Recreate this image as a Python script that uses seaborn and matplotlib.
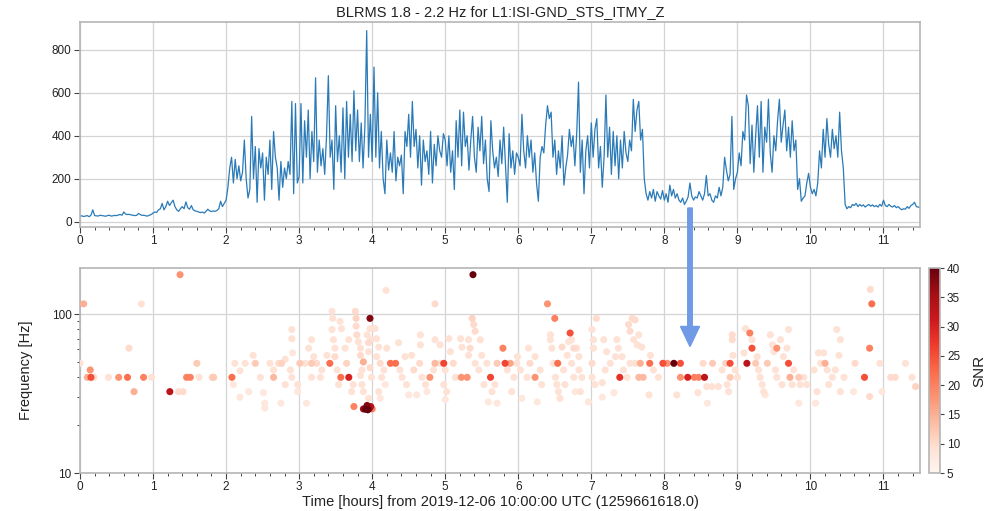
import numpy as np
import pandas as pd
import matplotlib
matplotlib.use("Agg")
import matplotlib.pyplot as plt
import seaborn as sns
from matplotlib.patches import FancyArrow
from matplotlib.ticker import MultipleLocator, FixedLocator, NullFormatter

# ---------------- data ----------------
# BLRMS samples every 0.025 h (one list per hour)
blrms_00 = [25, 27, 24, 26, 28, 23, 30, 55, 28, 27, 26, 30, 28, 27, 25, 28, 30, 26, 27, 29,
            28, 31, 33, 30, 45, 35, 33, 34, 31, 30, 28, 29, 38, 33, 29, 30, 27, 26, 30, 33]
blrms_01 = [40, 45, 43, 55, 60, 85, 55, 70, 95, 75, 88, 100, 70, 55, 48, 60, 70, 60, 92, 65,
            58, 75, 55, 50, 48, 45, 42, 45, 40, 48, 58, 50, 47, 50, 48, 52, 60, 95, 70, 85]
blrms_02 = [100, 160, 250, 300, 180, 290, 200, 260, 190, 230, 380, 200, 110, 150, 490, 200,
            350, 90, 340, 250, 320, 100, 300, 220, 380, 150, 420, 300, 250, 100, 280, 160,
            250, 200, 280, 220, 560, 130, 550, 180]
blrms_03 = [210, 550, 180, 470, 300, 520, 200, 420, 280, 670, 230, 380, 260, 340, 220, 400,
            680, 300, 380, 150, 540, 280, 400, 230, 530, 200, 560, 300, 500, 280, 610, 330,
            520, 280, 460, 250, 440, 890, 300, 500]
blrms_04 = [280, 720, 300, 600, 250, 420, 200, 130, 380, 240, 320, 230, 420, 190, 300, 260,
            310, 130, 420, 350, 500, 300, 560, 350, 430, 250, 400, 170, 380, 280, 330, 220,
            420, 180, 360, 260, 400, 330, 300, 410]
blrms_05 = [380, 260, 400, 230, 330, 150, 470, 300, 520, 260, 510, 350, 400, 240, 380, 490,
            300, 230, 440, 330, 490, 270, 380, 200, 140, 470, 330, 250, 300, 210, 380, 270,
            440, 260, 90, 410, 250, 330, 220, 320]
blrms_06 = [300, 260, 500, 330, 250, 400, 300, 380, 230, 320, 180, 95, 300, 350, 320, 450,
            540, 480, 510, 300, 380, 220, 330, 250, 400, 170, 250, 310, 430, 350, 400, 260,
            410, 650, 230, 380, 130, 330, 400, 250]
blrms_07 = [460, 300, 430, 480, 250, 350, 160, 300, 590, 300, 440, 220, 420, 260, 400, 200,
            380, 250, 420, 320, 280, 380, 330, 570, 420, 520, 560, 380, 430, 200, 130, 100,
            140, 110, 150, 95, 140, 120, 105, 145]
blrms_08 = [100, 130, 90, 170, 120, 150, 110, 130, 100, 90, 110, 80, 95, 115, 180, 120,
            100, 115, 110, 140, 120, 100, 130, 215, 120, 130, 100, 90, 120, 110, 160, 120,
            160, 300, 240, 190, 220, 490, 150, 200]
blrms_09 = [230, 320, 260, 420, 380, 590, 540, 270, 450, 230, 400, 540, 300, 560, 230, 440,
            370, 570, 320, 230, 400, 330, 470, 570, 370, 450, 520, 330, 440, 300, 470, 330,
            380, 150, 200, 95, 110, 120, 180, 225]
blrms_10 = [160, 130, 150, 120, 180, 330, 250, 430, 300, 480, 360, 300, 430, 340, 400, 300,
            510, 330, 250, 80, 60, 70, 65, 80, 75, 85, 70, 80, 72, 78, 68, 75, 80, 72, 78, 70,
            75, 68, 80, 72]
blrms_11 = [100, 75, 70, 80, 72, 68, 75, 65, 70, 62, 55, 60, 58, 70, 62, 75, 80, 90, 70, 68, 65]
sample_step_hours = 0.025

# Omicron-like triggers: (time [h], frequency [Hz], SNR)
triggers_0to2 = [
    (0.00, 49, 9), (0.05, 116, 15), (0.10, 40, 15), (0.14, 44.5, 18), (0.15, 40, 25),
    (0.19, 40, 10), (0.39, 40, 9), (0.53, 40, 18), (0.65, 40, 22), (0.67, 61, 10),
    (0.74, 32.5, 15), (0.84, 116, 9), (0.87, 40, 20), (0.98, 40, 9), (1.23, 32.5, 33),
    (1.35, 32.5, 10), (1.37, 177, 18), (1.41, 32.5, 10), (1.46, 40, 20), (1.51, 40, 20),
    (1.60, 49, 12), (1.63, 40, 9), (1.83, 40, 12), (1.81, 40, 11),
]
triggers_2to3 = [
    (2.08, 40, 22), (2.12, 49, 9), (2.10, 36, 8), (2.19, 44, 9), (2.26, 49, 9), (2.19, 30, 8),
    (2.31, 32.5, 8), (2.37, 55, 9), (2.40, 49, 12), (2.47, 40, 9), (2.51, 32, 8), (2.53, 27.5, 8),
    (2.53, 25.6, 8), (2.60, 49, 9), (2.65, 40, 14), (2.65, 44.5, 9), (2.72, 49, 10), (2.76, 49, 11),
    (2.75, 27.5, 8), (2.81, 36, 9), (2.81, 52, 9), (2.88, 44.5, 9), (2.90, 80, 9), (2.90, 70, 9),
    (2.91, 57, 8), (2.90, 40, 9), (2.98, 36, 9), (2.98, 32.5, 8),
]
triggers_3to4 = [
    (3.01, 49, 12), (3.08, 49, 9), (3.10, 27.5, 8), (3.13, 61, 9), (3.17, 69, 9), (3.20, 54, 9),
    (3.17, 49, 12), (3.17, 40, 9), (3.24, 49, 10), (3.29, 40, 9), (3.31, 44.5, 9), (3.38, 55, 9),
    (3.42, 49, 22), (3.45, 104, 9), (3.46, 94, 9), (3.45, 80, 9), (3.47, 69, 9), (3.49, 61, 9),
    (3.49, 54, 10), (3.52, 44.5, 9), (3.54, 36, 9), (3.57, 40, 22), (3.56, 90, 9), (3.58, 81, 9),
    (3.63, 61, 9), (3.65, 49, 11), (3.68, 40, 30), (3.68, 69, 9), (3.72, 32.5, 9), (3.74, 36, 9),
    (3.77, 104, 10), (3.78, 94, 11), (3.78, 84, 10), (3.79, 74, 10), (3.81, 67, 9), (3.84, 61, 9),
    (3.84, 55, 10), (3.86, 44.5, 9), (3.88, 50, 15), (3.84, 41, 9), (3.86, 36, 9), (3.88, 32.5, 9),
    (3.93, 74, 9), (3.95, 66, 10), (3.95, 58, 9), (3.97, 94, 38), (3.97, 81, 9), (3.98, 69, 9),
    (3.97, 46, 10), (3.99, 40, 9), (3.95, 29.5, 9), (3.75, 26.2, 20),
    (3.88, 25.3, 36), (3.91, 25.2, 40), (3.93, 26.6, 38), (3.96, 25.4, 36), (3.98, 26.2, 33),
    (4.00, 25.3, 20), (3.94, 25.0, 40),
]
triggers_4to5 = [
    (4.04, 81, 9), (4.06, 70, 9), (4.09, 62, 9), (4.06, 54, 9), (4.11, 49, 10), (4.16, 44.5, 9),
    (4.13, 40, 9), (4.18, 36, 8), (4.09, 32.5, 9), (4.11, 29.5, 8), (4.19, 141, 9), (4.20, 61, 9),
    (4.25, 49, 22), (4.32, 49, 22), (4.36, 66, 9), (4.38, 44.5, 9), (4.41, 40, 9), (4.45, 54, 9),
    (4.47, 36, 9), (4.50, 31, 8), (4.54, 55, 9), (4.57, 44.5, 10), (4.61, 31, 8), (4.66, 74, 9),
    (4.66, 64, 9), (4.65, 49, 10), (4.68, 40, 9), (4.73, 36, 9), (4.75, 32.5, 8), (4.79, 40, 18),
    (4.84, 44.5, 9), (4.86, 69, 9), (4.86, 49, 14), (4.86, 116, 10), (4.93, 64, 9), (4.93, 49, 9),
    (4.98, 49, 26), (4.98, 36, 9),
]
triggers_5to6 = [
    (5.00, 44.5, 9), (5.00, 29, 8), (5.02, 32.5, 9), (5.05, 70, 9), (5.07, 58, 9), (5.11, 49, 10),
    (5.14, 40, 9), (5.21, 70, 9), (5.23, 62, 9), (5.22, 40, 18), (5.30, 40, 18), (5.32, 69, 9),
    (5.34, 61, 10), (5.32, 55, 9), (5.37, 94, 11), (5.39, 86, 10), (5.41, 78, 10), (5.41, 49, 9),
    (5.38, 177, 40), (5.46, 44.5, 9), (5.48, 69, 9), (5.50, 55, 9), (5.53, 36, 9), (5.57, 49, 9),
    (5.62, 40, 26), (5.59, 28, 8), (5.64, 32.5, 9), (5.68, 36, 9), (5.71, 27.5, 8), (5.71, 49, 12),
    (5.79, 61, 20), (5.82, 49, 26), (5.89, 49, 16), (5.85, 44.5, 9), (5.91, 32.5, 9), (5.94, 40, 9),
    (5.98, 49, 9), (5.99, 54, 9),
]
triggers_6to7 = [
    (6.03, 44.5, 9), (6.05, 29.5, 8), (6.12, 40, 9), (6.14, 61, 9), (6.16, 49, 10), (6.23, 40, 18),
    (6.23, 54, 9), (6.26, 28, 8), (6.30, 44.5, 9), (6.32, 36, 9), (6.40, 116, 18), (6.44, 74, 9),
    (6.44, 69, 9), (6.46, 61, 9), (6.48, 49, 9), (6.50, 94, 20), (6.54, 49, 22), (6.51, 40, 9),
    (6.53, 36, 9), (6.55, 32.5, 9), (6.57, 29.5, 9), (6.60, 62, 10), (6.62, 44.5, 9), (6.64, 36, 9),
    (6.67, 55, 9), (6.69, 67, 9), (6.71, 76, 25), (6.73, 49, 9), (6.76, 40, 9), (6.78, 32.5, 8),
    (6.80, 61, 9), (6.83, 44.5, 9), (6.73, 69, 9), (6.76, 61, 10), (6.83, 54, 9), (6.85, 32.5, 9),
    (6.87, 40, 9), (6.96, 28, 8),
]
triggers_7to8 = [
    (7.01, 80, 9), (7.03, 69, 9), (7.07, 94, 10), (7.03, 61, 9), (7.01, 49, 10), (7.01, 40, 9),
    (7.05, 36, 9), (7.15, 37, 9), (7.15, 30, 8), (7.17, 69, 9), (7.21, 58, 9), (7.19, 44.5, 9),
    (7.26, 49, 9), (7.31, 32, 8), (7.35, 69, 9), (7.37, 61, 9), (7.33, 54, 9), (7.39, 40, 28),
    (7.42, 54, 9), (7.44, 44.5, 9), (7.51, 86, 10), (7.53, 78, 10), (7.56, 94, 10), (7.60, 92, 10),
    (7.58, 69, 9), (7.63, 64, 9), (7.65, 74, 9), (7.69, 62, 9), (7.53, 49, 9), (7.49, 40, 9),
    (7.60, 49, 9), (7.65, 40, 14), (7.71, 40, 14), (7.67, 49, 15), (7.80, 49, 22), (7.79, 31, 9),
    (7.81, 55, 9), (7.85, 44.5, 9), (7.92, 40, 9), (7.98, 49, 25),
]
triggers_8to9 = [
    (8.04, 49, 18), (8.13, 49, 40), (8.22, 49, 25), (8.22, 40, 18), (8.32, 40, 30), (8.41, 40, 20),
    (8.47, 40, 20), (8.55, 40, 33), (8.53, 49, 10), (8.66, 49, 12), (8.17, 31, 9), (8.46, 32, 9),
    (8.58, 35, 9), (8.65, 35, 9), (8.59, 27.5, 8), (8.74, 35, 9), (8.79, 44.5, 9), (8.86, 36, 9),
    (8.88, 32.5, 9), (8.93, 74, 10), (8.93, 69, 10), (8.94, 55, 9), (8.97, 44.5, 9), (8.84, 49, 11),
    (8.90, 49, 25), (8.90, 40, 12),
]
triggers_9to10 = [
    (9.00, 40, 9), (9.09, 57, 9), (9.11, 81, 9), (9.13, 49, 33), (9.20, 61, 25), (9.17, 76, 20),
    (9.20, 69, 9), (9.25, 49, 12), (9.27, 54, 9), (9.29, 44.5, 9), (9.31, 40, 9), (9.34, 36, 9),
    (9.36, 32.5, 9), (9.38, 31, 8), (9.41, 49, 12), (9.45, 74, 9), (9.48, 64, 9), (9.50, 58, 9),
    (9.52, 44.5, 9), (9.54, 40, 9), (9.54, 61, 18), (9.59, 69, 9), (9.61, 36, 9), (9.63, 54, 9),
    (9.68, 61, 9), (9.70, 80, 9), (9.70, 49, 25), (9.72, 40, 15), (9.75, 36, 9), (9.77, 44.5, 9),
    (9.84, 27.5, 8), (9.84, 40, 12), (9.86, 36, 9), (9.91, 40, 9), (9.95, 36, 9),
]
triggers_10to12 = [
    (10.05, 44.5, 9), (10.07, 27.5, 8), (10.09, 32.5, 9), (10.11, 57, 9), (10.14, 49, 9),
    (10.18, 57, 9), (10.20, 49, 15), (10.23, 44.5, 9), (10.25, 36, 9), (10.30, 40, 9),
    (10.34, 44.5, 9), (10.36, 80, 9), (10.39, 55, 9), (10.41, 69, 9), (10.41, 32.5, 9),
    (10.46, 40, 9), (10.59, 32.5, 8), (10.61, 49, 10), (10.74, 40, 25), (10.81, 61, 20),
    (10.84, 116, 22), (10.82, 143, 10), (10.81, 30.3, 10), (10.95, 49, 9), (10.98, 32.5, 8),
    (11.10, 40, 10), (11.16, 40, 10), (11.30, 49, 9), (11.39, 40, 9), (11.44, 35, 11),
]

title = "BLRMS 1.8 - 2.2 Hz for L1:ISI-GND_STS_ITMY_Z"
xlabel = "Time [hours] from 2019-12-06 10:00:00 UTC (1259661618.0)"
ylabel_bottom = "Frequency [Hz]"
cbar_label = "SNR"
cbar_ticks = [5, 10, 15, 20, 25, 30, 35, 40]
hour_ticks = [0, 1, 2, 3, 4, 5, 6, 7, 8, 9, 10, 11]

# ---------------- build tables ----------------
blrms = (blrms_00 + blrms_01 + blrms_02 + blrms_03 + blrms_04 + blrms_05 + blrms_06 +
         blrms_07 + blrms_08 + blrms_09 + blrms_10 + blrms_11)
ts = pd.DataFrame({"t": np.arange(len(blrms)) * sample_step_hours, "v": blrms})

trig = pd.DataFrame(triggers_0to2 + triggers_2to3 + triggers_3to4 + triggers_4to5 +
                    triggers_5to6 + triggers_6to7 + triggers_7to8 + triggers_8to9 +
                    triggers_9to10 + triggers_10to12, columns=["t", "f", "snr"])
trig = trig.sort_values("snr", kind="stable")

# ---------------- style ----------------
sns.set_theme(style="white")
plt.rcParams["font.family"] = ["Liberation Sans", "DejaVu Sans"]
plt.rcParams["axes.edgecolor"] = "#b5b5b5"
plt.rcParams["axes.linewidth"] = 1.2
text_col = "#222222"
grid_col = "#d4d4d4"

W, H = 999, 511
fig = plt.figure(figsize=(W / 100, H / 100), dpi=100)

def box(x0, y0, x1, y1):
    return [x0 / W, 1 - y1 / H, (x1 - x0) / W, (y1 - y0) / H]

ax1 = fig.add_axes(box(80, 22, 920, 227))
ax2 = fig.add_axes(box(80, 268, 920, 473))
cax = fig.add_axes(box(929, 268, 940, 473))

# top panel
sns.lineplot(data=ts, x="t", y="v", ax=ax1, color="#2a7ab8", linewidth=0.9, sort=False,
             estimator=None)
ax1.set_xlim(0, 11.5)
ax1.set_ylim(-25, 930)
ax1.set_yticks([0, 200, 400, 600, 800])
ax1.set_title(title, fontsize=10.5, color=text_col, pad=4)
ax1.set_xlabel("")
ax1.set_ylabel("")

# bottom panel
sns.scatterplot(data=trig, x="t", y="f", hue="snr", palette="Reds", hue_norm=(5, 40),
                ax=ax2, s=26, linewidth=0, legend=False, zorder=3)
ax2.set_yscale("log")
ax2.set_xlim(0, 11.5)
ax2.set_ylim(10, 195)
ax2.yaxis.set_major_locator(FixedLocator([10, 100]))
ax2.set_yticklabels(["10", "100"])
ax2.yaxis.set_minor_locator(FixedLocator([20, 30, 40, 50, 60, 70, 80, 90]))
ax2.yaxis.set_minor_formatter(NullFormatter())
ax2.set_xlabel(xlabel, fontsize=10.5, color=text_col, labelpad=1)
ax2.set_ylabel(ylabel_bottom, fontsize=10.5, color=text_col)
ax2.yaxis.set_label_coords(-0.056, 0.5)

for ax in (ax1, ax2):
    ax.set_xticks(hour_ticks)
    ax.xaxis.set_minor_locator(MultipleLocator(0.2))
    ax.grid(True, which="major", color=grid_col, linewidth=0.9, zorder=0)
    ax.set_axisbelow(True)
    ax.tick_params(which="major", direction="out", length=4, width=0.8, color="#444444",
                   labelsize=8.5, labelcolor=text_col, pad=2)
    ax.tick_params(which="minor", direction="out", length=2, width=0.7, color="#444444")
    ax.tick_params(axis="x", which="both", bottom=True)
    ax.tick_params(axis="y", which="both", left=True)
    for s in ax.spines.values():
        s.set_color("#b5b5b5")
        s.set_linewidth(1.2)

# colorbar
sm = matplotlib.cm.ScalarMappable(norm=matplotlib.colors.Normalize(5, 40), cmap="Reds")
cb = fig.colorbar(sm, cax=cax)
cb.set_ticks(cbar_ticks)
cb.outline.set_edgecolor("#b5b5b5")
cb.outline.set_linewidth(1.2)
cax.tick_params(direction="out", length=3, width=0.8, color="#444444", labelsize=8.5,
                labelcolor=text_col, pad=2)
cb.set_label(cbar_label, fontsize=11, color=text_col, labelpad=9)

# arrow from the top panel to the bottom panel
arrow = FancyArrow(6.90, (H - 208) / 100, 0, -(346.5 - 208) / 100, width=0.045,
                   head_width=0.19, head_length=0.2, length_includes_head=True,
                   color="#7099e6", transform=fig.dpi_scale_trans, zorder=10)
fig.add_artist(arrow)

fig.savefig("out.png", dpi=100)
